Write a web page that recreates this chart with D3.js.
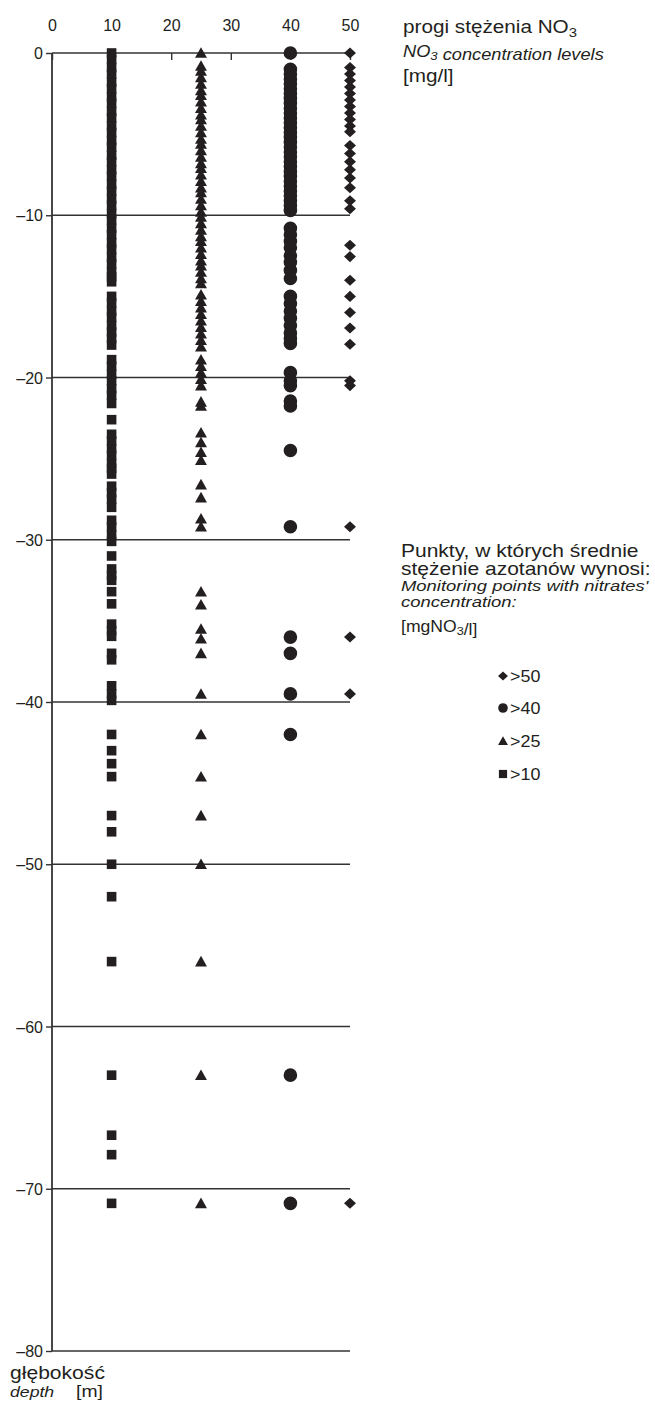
<!DOCTYPE html>
<html>
<head>
<meta charset="utf-8">
<script src="https://cdn.jsdelivr.net/npm/d3@7/dist/d3.min.js"></script>
<style>
  html, body { margin: 0; padding: 0; background: #fff; }
  svg { display: block; }
  text { font-family: "Liberation Sans", Arial, Helvetica, sans-serif; fill: #231f20; }
</style>
</head>
<body>
<svg id="chart" width="655" height="1405"></svg>
<script>
// NO3 concentration thresholds (x positions of the columns)
const levels = [10, 25, 40, 50];

// depths [m] of monitoring points, one list per concentration class
const depthsOver10 = [0, -0.4, -0.9, -1.3, -1.8, -2.2, -2.7, -3.1, -3.6, -4.0, -4.5, -4.9, -5.4, -5.8,
  -6.3, -6.7, -7.2, -7.6, -8.1, -8.5, -9.0, -9.4, -9.9, -10.3, -10.8, -11.2, -11.7, -12.1, -12.6,
  -13.0, -13.5, -13.8, -14.1, -15.0, -15.4, -15.9, -16.3, -16.8, -17.2, -17.6, -18.0,
  -18.9, -19.3, -19.8, -20.2, -20.7, -21.1, -21.6, -22.6, -23.5, -23.9, -24.4, -24.8, -25.3,
  -25.6, -25.95, -26.7, -27.1, -27.5, -28.0, -28.8, -29.2, -29.7, -30.1, -31.0, -31.8, -32.2,
  -32.5, -33.2, -33.95, -35.2, -35.6, -35.95, -37.0, -37.4, -39.0, -39.5, -39.9, -42.0, -43.0,
  -43.8, -44.6, -47.0, -48.0, -50.0, -52.0, -56.0, -63.0, -66.7, -67.9, -70.9];

const depthsOver25 = [0, -0.8, -1.1, -1.5, -1.9, -2.3, -2.6, -3.0, -3.4, -3.8, -4.1, -4.5, -4.9,
  -5.3, -5.6, -6.0, -6.4, -6.8, -7.1, -7.5, -7.9, -8.3, -8.6, -9.0, -9.4, -9.8, -10.1, -10.5,
  -10.9, -11.3, -11.6, -12.0, -12.4, -12.8, -13.1, -13.5, -13.9, -14.2, -14.9, -15.3, -15.7,
  -16.1, -16.5, -16.9, -17.3, -17.7, -18.1, -18.9, -19.3, -19.7, -20.1, -20.5, -21.5, -21.75,
  -23.4, -24.0, -24.6, -25.1, -26.6, -27.4, -28.7, -29.2, -33.2, -34.0, -35.5, -36.1, -37.0,
  -39.5, -42.0, -44.6, -47.0, -50.0, -56.0, -63.0, -70.9];

const depthsOver40 = [0, -1.0, -1.3, -1.6, -1.9, -2.2, -2.5, -2.8, -3.1, -3.4, -3.7, -4.0, -4.3,
  -4.6, -4.9, -5.2, -5.5, -5.8, -6.1, -6.4, -6.7, -7.0, -7.3, -7.6, -7.9, -8.2, -8.5, -8.8, -9.1,
  -9.4, -9.7, -10.8, -11.2, -11.6, -12.0, -12.5, -12.9, -13.4, -13.9, -15.0, -15.45, -15.9,
  -16.35, -16.8, -17.25, -17.6, -17.9, -19.7, -20.2, -20.5, -21.45, -21.75, -24.5, -29.2,
  -36.0, -37.0, -39.5, -42.0, -63.0, -70.9];

const depthsOver50 = [0, -0.9, -1.3, -1.7, -2.1, -2.5, -2.9, -3.3, -3.7, -4.1, -4.5, -4.85,
  -5.7, -6.2, -6.7, -7.2, -7.7, -8.3, -9.1, -9.6, -11.85, -12.55, -14.0, -15.0, -16.0, -16.95,
  -17.95, -20.2, -20.5, -29.2, -36.0, -39.5, -70.9];

// axis ticks
const xTicks = [0, 10, 20, 30, 40, 50];
const yTicks = [0, -10, -20, -30, -40, -50, -60, -70, -80];
const legendLabels = [">50", ">40", ">25", ">10"];

const ink = "#231f20";
const svg = d3.select("#chart");

const x = d3.scaleLinear().domain([0, 50]).range([52, 350]);
const y = d3.scaleLinear().domain([0, -80]).range([53, 1351]);

// marker paths, centred on the origin
const shapes = {
  square: s => `M${-s/2},${-s/2}h${s}v${s}h${-s}Z`,
  triangle: s => `M0,${-s*0.5}L${s*0.52},${s*0.42}L${-s*0.52},${s*0.42}Z`,
  circle: s => `M${s/2},0A${s/2},${s/2} 0 1,1 ${-s/2},0A${s/2},${s/2} 0 1,1 ${s/2},0Z`,
  diamond: s => `M0,${-s*0.48}L${s*0.52},0L0,${s*0.48}L${-s*0.52},0Z`
};

// horizontal depth lines and the left axis
const grid = svg.append("g");
grid.selectAll("line.h").data(yTicks).join("line")
  .attr("x1", x(0)).attr("x2", x(50))
  .attr("y1", d => y(d)).attr("y2", d => y(d))
  .attr("stroke", "#333").attr("stroke-width", 1.6);
grid.append("line")
  .attr("x1", x(0)).attr("x2", x(0)).attr("y1", y(0)).attr("y2", y(-80))
  .attr("stroke", "#333").attr("stroke-width", 1.8);

// top axis: NO3 level ticks
const xAxis = d3.axisTop(x).tickValues(xTicks).tickSize(0).tickPadding(0).tickFormat(d3.format("d"));
const gx = svg.append("g").attr("transform", `translate(0,${y(0)})`).call(xAxis);
gx.select(".domain").remove();
gx.selectAll(".tick text").attr("y", 31 - y(0)).attr("dy", 0)
  .attr("font-size", 16).attr("fill", ink).attr("font-family", null);
gx.selectAll(".tick").append("line").attr("y1", 0).attr("y2", 7)
  .attr("stroke", "#333").attr("stroke-width", 1.4);

// left axis: depth ticks
const yAxis = d3.axisLeft(y).tickValues(yTicks).tickSize(6).tickPadding(3)
  .tickFormat(d => d === 0 ? "0" : "\u2013" + Math.abs(d));
const gy = svg.append("g").attr("transform", `translate(${x(0)},0)`).call(yAxis);
gy.select(".domain").remove();
gy.selectAll(".tick line").attr("stroke", "#333").attr("stroke-width", 1.4);
gy.selectAll(".tick text").attr("font-size", 16).attr("fill", ink).attr("font-family", null).attr("dy", "0.35em");

// data columns
const columns = [
  { level: levels[0], depths: depthsOver10, shape: "square", size: 9.6 },
  { level: levels[1], depths: depthsOver25, shape: "triangle", size: 11.5 },
  { level: levels[2], depths: depthsOver40, shape: "circle", size: 13.6 },
  { level: levels[3], depths: depthsOver50, shape: "diamond", size: 11.5 }
];
const marks = svg.append("g");
columns.forEach(c => {
  marks.append("g").selectAll("path").data(c.depths).join("path")
    .attr("transform", d => `translate(${x(c.level)},${y(d)})`)
    .attr("d", shapes[c.shape](c.size))
    .attr("fill", ink);
});

// text helper: horizontally widened type
function label(g, tx, ty, parts, size, italic, sx) {
  const t = g.append("text")
    .attr("transform", `translate(${tx},${ty}) scale(${sx},1)`)
    .attr("font-size", size)
    .attr("font-style", italic ? "italic" : "normal");
  parts.forEach(p => {
    if (typeof p === "string") t.append("tspan").text(p);
    else t.append("tspan").attr("font-size", size * 0.72).attr("dy", p.dy).text(p.t);
  });
  return t;
}

const notes = svg.append("g");
label(notes, 403, 33, ["progi stężenia NO", { t: "3", dy: 4 }], 18.5, false, 1.12);
label(notes, 403, 57, ["NO", { t: "3", dy: 3 }, { t: "", dy: -3 }, " concentration levels"], 16, true, 1.14);
label(notes, 403, 82, ["[mg/l]"], 18.5, false, 1.12);

label(notes, 401, 557, ["Punkty, w których średnie"], 17.5, false, 1.2);
label(notes, 401, 575, ["stężenie azotanów wynosi:"], 17.5, false, 1.2);
label(notes, 401, 591, ["Monitoring points with nitrates'"], 15.5, true, 1.19);
label(notes, 401, 607, ["concentration:"], 15.5, true, 1.19);
label(notes, 401, 632, ["[mgNO", { t: "3", dy: 3 }, { t: "", dy: -3 }, "/l]"], 16, false, 1.1);

// legend
const legendShapes = ["diamond", "circle", "triangle", "square"];
const legendSizes = [9.5, 9.6, 9.5, 8.2];
const legendY = [676, 708, 741, 774];
const lg = svg.append("g");
legendLabels.forEach((l, i) => {
  lg.append("path")
    .attr("transform", `translate(503,${legendY[i]})`)
    .attr("d", shapes[legendShapes[i]](legendSizes[i]))
    .attr("fill", ink);
  label(lg, 510, legendY[i] + 5.5, [l], 16, false, 1.12);
});

// depth axis caption
label(notes, 10, 1379, ["głębokość"], 18.5, false, 1.14);
label(notes, 10, 1397, ["depth"], 15.5, true, 1.14);
label(notes, 76, 1397, ["[m]"], 17, false, 1.14);
</script>
</body>
</html>
